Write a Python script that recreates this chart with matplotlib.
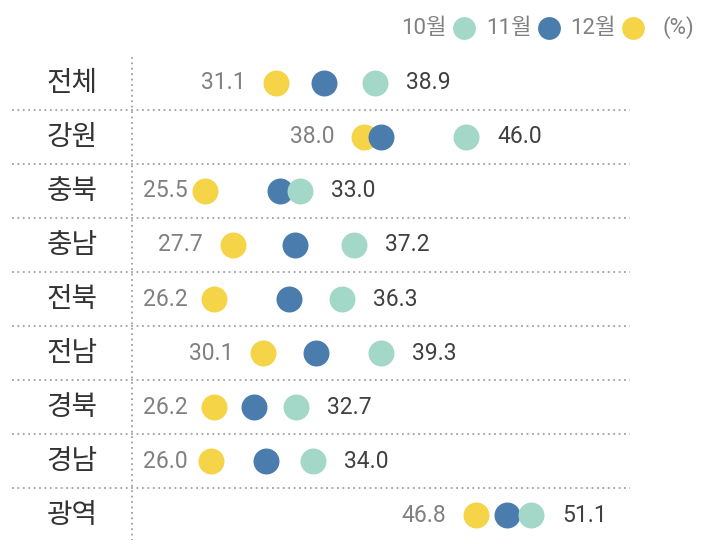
import numpy as np
import matplotlib.pyplot as plt
from matplotlib.transforms import blended_transform_factory

plt.rcParams['font.family'] = ['Noto Sans CJK KR', 'DejaVu Sans']

regions = ['전체', '강원', '충북', '충남', '전북', '전남', '경북', '경남', '광역']
oct_vals = [38.9, 46.0, 33.0, 37.2, 36.3, 39.3, 32.7, 34.0, 51.1]
nov_vals = [34.9, 39.3, 31.4, 32.6, 32.1, 34.2, 29.4, 30.3, 49.2]
dec_vals = [31.1, 38.0, 25.5, 27.7, 26.2, 30.1, 26.2, 26.0, 46.8]
months = ['10월', '11월', '12월']

c_oct = '#a3d8c8'
c_nov = '#4a7dae'
c_dec = '#f5d547'
grey = '#808080'
dark = '#404040'
line_c = '#a0a0a0'
num_font = ['Roboto', 'Noto Sans CJK KR']

fig = plt.figure(figsize=(7.13, 5.44), dpi=100)
ax = fig.add_axes((0, 0, 1, 1))
ax.set_xlim(9.45, 65.37)
ax.set_ylim(8.537, -1.537)
ax.axis('off')

y = np.arange(len(regions))
size = 350
ax.scatter(dec_vals, y, s=size, color=c_dec, lw=0, zorder=3)
ax.scatter(nov_vals, y, s=size, color=c_nov, lw=0, zorder=4)
ax.scatter(oct_vals, y, s=size, color=c_oct, lw=0, zorder=5)

bt = blended_transform_factory(ax.transAxes, ax.transData)

# --- row labels and dotted separators
for i, r in enumerate(regions):
    ax.text(0.101, i, r, transform=bt, ha='center', va='center',
            fontsize=20, color='#333333')
for i in range(len(regions) - 1):
    ax.plot([0.017, 0.884], [i + 0.5, i + 0.5], transform=bt, color=line_c,
            lw=1.3, ls=(0, (1, 2)), zorder=1)
ax.plot([0.185, 0.185], [-0.48, 8.46], transform=bt, color=line_c,
        lw=1.3, ls=(0, (1, 2)), zorder=1)

# --- value labels
for i in range(len(regions)):
    d = dec_vals[i]
    if d - 2.35 - 3.6 < 20.6:
        ax.text(20.7, i, f'{d:.1f}', ha='left', va='center', fontsize=16.5,
                color=grey, family=num_font)
    else:
        ax.text(d - 2.35, i, f'{d:.1f}', ha='right', va='center', fontsize=16.5,
                color=grey, family=num_font)
    ax.text(oct_vals[i] + 2.43, i, f'{oct_vals[i]:.1f}', ha='left', va='center',
            fontsize=16.5, color=dark, family=num_font)

# --- legend
leg_y = 1 - 28 / 544
for m, c, tx, dx in zip(months, [c_oct, c_nov, c_dec], [424, 509, 593], [464, 549, 633]):
    ax.text(tx / 713, leg_y, m, transform=ax.transAxes, ha='center', va='center',
            fontsize=16, color=grey, family=num_font)
    ax.scatter([dx / 713], [leg_y], s=270, color=c, lw=0, transform=ax.transAxes,
               clip_on=False)
ax.text(678 / 713, leg_y, '(%)', transform=ax.transAxes, ha='center', va='center',
        fontsize=16, color=grey, family=num_font)

fig.savefig('out.png', dpi=100)
